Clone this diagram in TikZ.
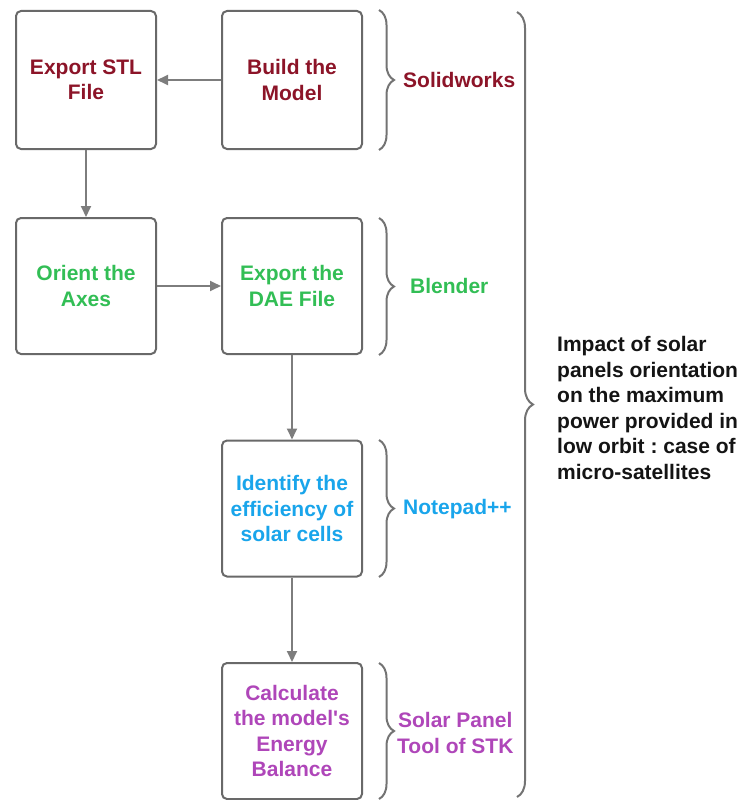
\documentclass[tikz,border=0pt]{standalone}
\usepackage{fontspec}
\setmainfont{Liberation Sans}
\usetikzlibrary{arrows.meta,decorations.pathreplacing}
\definecolor{cred}{RGB}{140,20,40}
\definecolor{cgreen}{RGB}{50,190,85}
\definecolor{cblue}{RGB}{25,165,235}
\definecolor{cpurple}{RGB}{175,70,185}
\definecolor{cbox}{RGB}{105,105,105}
\definecolor{carrow}{RGB}{125,125,125}
\definecolor{cbrace}{RGB}{115,115,115}
\definecolor{ctext}{RGB}{20,20,20}
\tikzset{
  stepbox/.style={draw=cbox, line width=2pt, rounded corners=5pt, fill=white,
    minimum width=140pt, inner sep=0pt, align=center,
    font=\fontsize{21}{25.5}\selectfont\bfseries},
  flow/.style={draw=carrow, line width=1.8pt, -{Triangle[length=11pt,width=10pt]}},
  brc/.style={draw=cbrace, line width=2pt, decorate, decoration={brace, amplitude=#1}},
  lbl/.style={anchor=west, inner sep=0pt, align=center,
    font=\fontsize{21}{25.5}\selectfont\bfseries}
}
\frenchspacing
\begin{document}
\begin{tikzpicture}[x=1pt,y=-1pt]
\useasboundingbox (0,0) rectangle (746,800);
\node[stepbox, minimum height=138pt, text=cred] (stl) at (86,80) {Export STL\\File};
\node[stepbox, minimum height=138pt, text=cred] (build) at (292,80) {Build the\\Model};
\node[stepbox, minimum height=136pt, text=cgreen] (orient) at (86,286) {Orient the\\Axes};
\node[stepbox, minimum height=136pt, text=cgreen] (dae) at (292,286) {Export the\\DAE File};
\node[stepbox, minimum height=136pt, text=cblue] (ident) at (292,508.5) {Identify the\\efficiency of\\solar cells};
\node[stepbox, minimum height=136pt, text=cpurple] (calc) at (292,731) {Calculate\\the model\textquotesingle s\\Energy\\Balance};

\draw[flow] (build) -- (stl);
\draw[flow] (stl) -- (orient);
\draw[flow] (orient) -- (dae);
\draw[flow] (dae) -- (ident);
\draw[flow] (ident) -- (calc);

\coordinate (b1t) at (379,10);   \coordinate (b1b) at (379,150);
\coordinate (b2t) at (379,218);  \coordinate (b2b) at (379,355);
\coordinate (b3t) at (379,440);  \coordinate (b3b) at (379,577);
\coordinate (b4t) at (379,663);  \coordinate (b4b) at (379,799);
\coordinate (bbt) at (517,12);   \coordinate (bbb) at (517,797);
\draw[brc=15pt] (b1t) -- (b1b);
\draw[brc=15pt] (b2t) -- (b2b);
\draw[brc=15pt] (b3t) -- (b3b);
\draw[brc=15pt] (b4t) -- (b4b);
\draw[brc=16pt] (bbt) -- (bbb);

\node[lbl, text=cred] (sw) at (403,80) {Solidworks};
\node[lbl, text=cgreen] (bl) at (410,286) {Blender};
\node[lbl, text=cblue] (np) at (403,509) {Notepad++};
\node[lbl, text=cpurple] (stk) at (397,733) {Solar Panel\\Tool of STK};
\node[lbl, align=left, text=ctext] (imp) at (557,408) {Impact of solar\\panels orientation\\on the maximum\\power provided in\\low orbit : case of\\micro-satellites};
\end{tikzpicture}
\end{document}
